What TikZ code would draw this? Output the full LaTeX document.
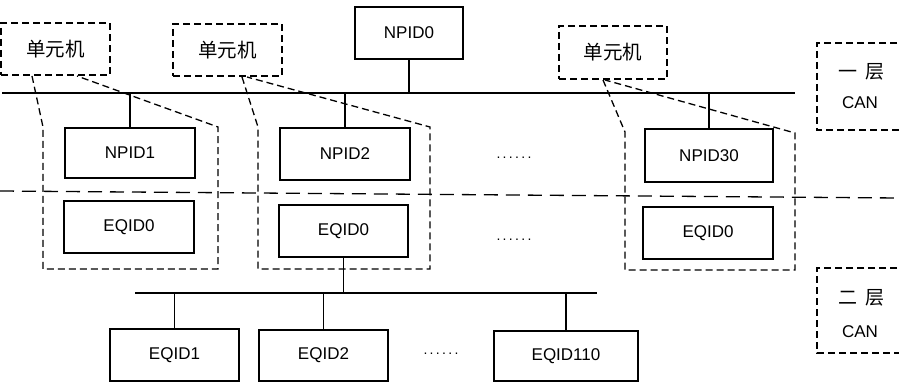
\documentclass[tikz,border=0pt]{standalone}
\usepackage{fontspec}
\setmainfont{Liberation Sans}
\newfontfamily\cjk{Noto Sans CJK SC}
\begin{document}
\begin{tikzpicture}[x=1pt,y=-1pt,
  box/.style={draw,line width=1.3pt,minimum width=#1,inner sep=0pt,font=\fontsize{17}{20}\selectfont},
  box/.default=130pt,
  unit/.style={draw,line width=1.3pt,dash pattern=on 7pt off 4pt,minimum width=109pt,minimum height=52pt,inner sep=0pt,font=\cjk\fontsize{19.5}{22}\selectfont},
  outl/.style={line width=1.3pt,dash pattern=on 7pt off 4pt},
  wire/.style={line width=1.3pt},
  dots/.style={font=\fontsize{14}{16}\selectfont},
  lbl/.style={font=\fontsize{17}{20}\selectfont},
  cjklbl/.style={font=\cjk\fontsize{19}{22}\selectfont}]
\useasboundingbox (0,0) rectangle (899,382);
\clip (0,0) rectangle (899,382);
% unit machine labels
\node[unit] (u1) at (55.5,49) {单元机};
\node[unit] (u2) at (227.5,50) {单元机};
\node[unit,minimum width=108pt,minimum height=53pt] (u3) at (613,52.5) {单元机};
% nodes
\node[box=108pt,minimum height=52pt] (npid0) at (409,33) {NPID0};
\node[box,minimum height=50pt] (npid1) at (130,153) {NPID1};
\node[box,minimum height=52pt] (npid2) at (345,154) {NPID2};
\node[box=128pt,minimum height=53pt] (npid30) at (709,155.5) {NPID30};
\node[box,minimum height=52pt] (eq0a) at (129,227) {EQID0};
\node[box=129pt,minimum height=52pt] (eq0b) at (343.5,231) {EQID0};
\node[box,minimum height=52pt] (eq0c) at (708,233) {EQID0};
\node[box=129pt,minimum height=52pt] (eq1) at (174.5,355) {EQID1};
\node[box=129pt,minimum height=51pt] (eq2) at (323.5,355.5) {EQID2};
\node[box=144pt,minimum height=50pt] (eq110) at (566,356) {EQID110};
% dots
\node[dots] (d1) at (514,158) {.\,.\,.\,.\,.\,.};
\node[dots] (d2) at (514,240) {.\,.\,.\,.\,.\,.};
\node[dots] (d3) at (441,354) {.\,.\,.\,.\,.\,.};
% CAN boxes
\draw[outl] (930,43) -- (817,43) -- (817,130) -- (930,130);
\node[cjklbl] (c1a) at (861,72) {一\hspace{8pt}层};
\node[lbl] (c1b) at (860,103) {CAN};
\draw[outl] (930,268) -- (817,268) -- (817,353) -- (930,353);
\node[cjklbl] (c2a) at (861,298) {二\hspace{8pt}层};
\node[lbl] (c2b) at (860,332) {CAN};
% buses
\coordinate (b1l) at (2,93);
\coordinate (b1r) at (795,93);
\draw[wire] (b1l) -- (b1r);
\coordinate (b2l) at (135,293);
\coordinate (b2r) at (597,293);
\draw[wire] (b2l) -- (b2r);
\draw[wire] (npid0.south) -- (npid0.south |- b1l);
\draw[wire] (npid1.north) -- (npid1.north |- b1l);
\draw[wire] (npid2.north) -- (npid2.north |- b1l);
\draw[wire] (npid30.north) -- (npid30.north |- b1l);
\draw[wire] (eq0b.south) -- (eq0b.south |- b2l);
\draw[wire] (eq1.north) -- (eq1.north |- b2l);
\draw[wire] (eq2.north) -- (eq2.north |- b2l);
\draw[wire] (eq110.north) -- (eq110.north |- b2l);
% layer separation
\draw[line width=1.3pt,dash pattern=on 14pt off 8pt] (0,191) -- (899,198);
% unit outlines
\draw[outl] (32,76) -- (43,127) -- (43,269) -- (218,269) -- (218,127) -- (77,76);
\draw[outl] (242,77) -- (258,127) -- (258,269) -- (430,269) -- (430,127) -- (247,77);
\draw[outl] (603,80) -- (625,132) -- (625,270) -- (795,270) -- (795,133) -- (605,80);
\end{tikzpicture}
\end{document}
